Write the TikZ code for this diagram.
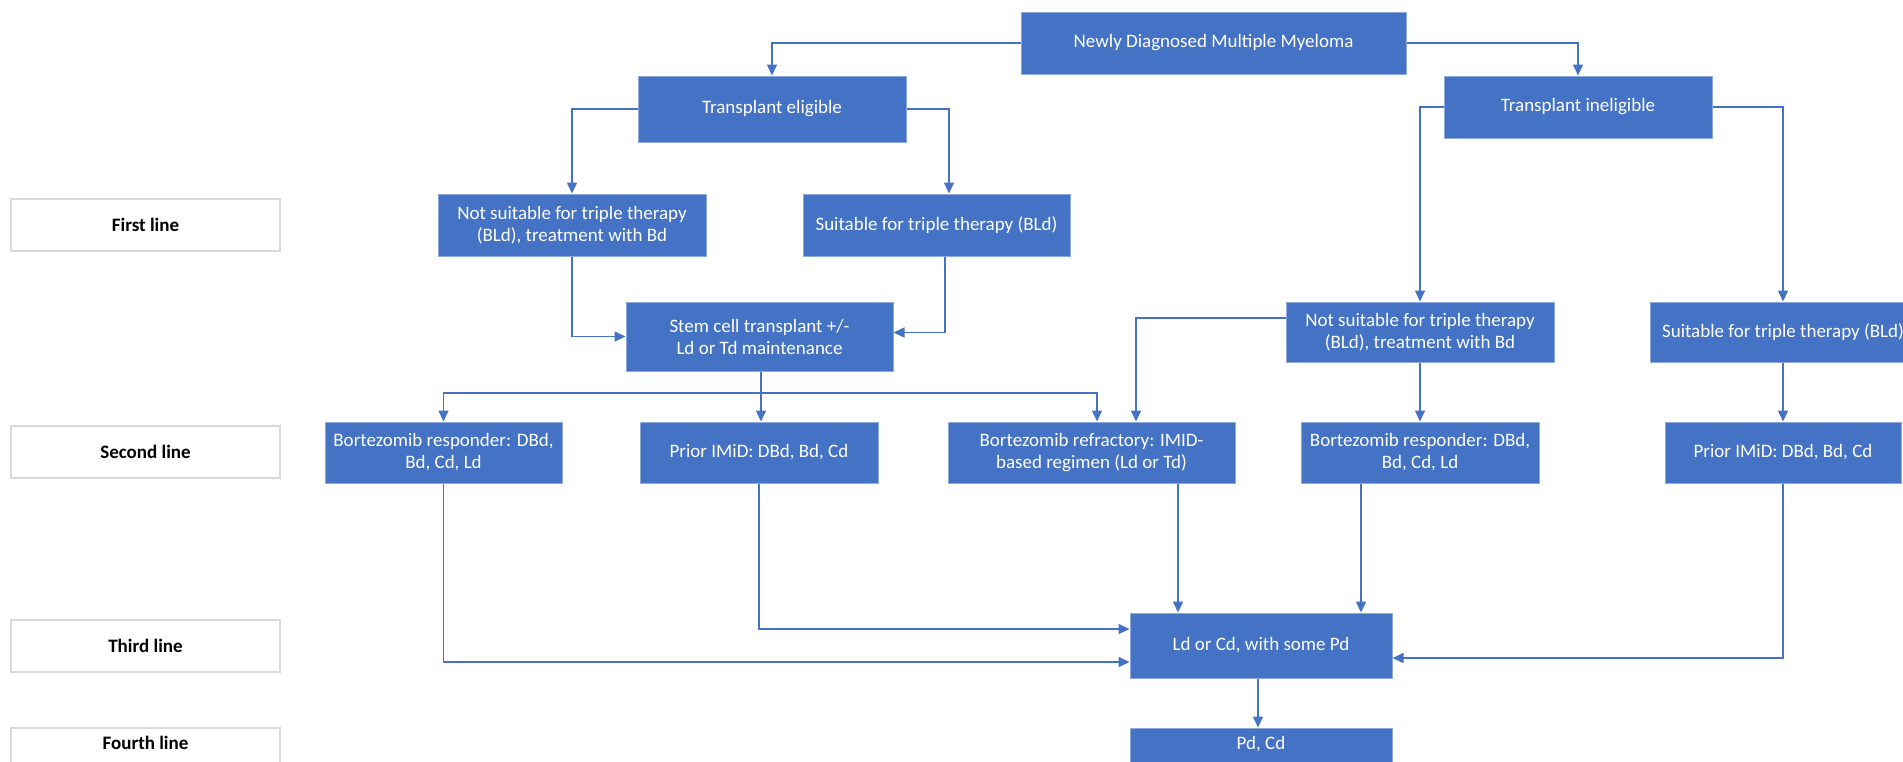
\documentclass[tikz,border=0pt]{standalone}
\usepackage{fontspec}
\setmainfont{Carlito}
\usetikzlibrary{arrows.meta,calc}
\definecolor{boxblue}{HTML}{4472C4}
\definecolor{lineblue}{HTML}{4472C4}
\definecolor{edgeblue}{HTML}{8EA9DB}
\definecolor{graybd}{HTML}{D9D9D9}
\begin{document}
\begin{tikzpicture}[x=1pt,y=-1pt,
  bluebox/.style={fill=boxblue, draw=edgeblue, line width=1pt, text=white,
    font=\fontsize{19}{22}\selectfont, align=center, inner sep=0pt},
  lbl/.style={fill=white, draw=graybd, line width=1.5pt,
    font=\fontsize{19}{22}\selectfont\bfseries, minimum width=269pt, minimum height=52pt},
  arr/.style={draw=lineblue, line width=1.6pt, -{Triangle[length=11pt,width=10pt]}},
  conn/.style={draw=lineblue, line width=1.6pt}]
\useasboundingbox (0,0) rectangle (1903,761);
\clip (0,0) rectangle (1903,761);

% row labels
\node[lbl] (l1) at (145.5,225) {First line};
\node[lbl] (l2) at (145.5,452) {Second line};
\node[lbl] (l3) at (145.5,646) {Third line};
\node[lbl, inner sep=0pt, text height=13pt, text depth=23pt] (l4) at (145.5,754) {Fourth line};

% boxes
\node[bluebox, minimum width=385pt, minimum height=62pt] (top) at (1213.5,43) {Newly Diagnosed Multiple Myeloma};
\node[bluebox, minimum width=268pt, minimum height=66pt] (te) at (772,109) {Transplant eligible};
\node[bluebox, minimum width=268pt, minimum height=62pt] (ti) at (1578,107) {Transplant ineligible};
\node[bluebox, minimum width=268pt, minimum height=62pt] (nsL) at (572,225) {Not suitable for triple therapy\\(BLd), treatment with Bd};
\node[bluebox, minimum width=267pt, minimum height=62pt] (sL) at (936.5,225) {Suitable for triple therapy (BLd)};
\node[bluebox, minimum width=267pt, minimum height=69pt] (stem) at (759.5,336.5) {Stem cell transplant +/-\\Ld or Td maintenance};
\node[bluebox, minimum width=268pt, minimum height=60pt] (nsR) at (1420,332) {Not suitable for triple therapy\\(BLd), treatment with Bd};
\node[bluebox, minimum width=266pt, minimum height=60pt] (sR) at (1783,332) {Suitable for triple therapy (BLd)};
\node[bluebox, minimum width=237pt, minimum height=61pt] (brL) at (443.5,452.5) {Bortezomib responder: DBd,\\Bd, Cd, Ld};
\node[bluebox, minimum width=238pt, minimum height=61pt] (piL) at (759,452.5) {Prior IMiD: DBd, Bd, Cd};
\node[bluebox, minimum width=287pt, minimum height=61pt] (ref) at (1091.5,452.5) {Bortezomib refractory: IMID-\\based regimen (Ld or Td)};
\node[bluebox, minimum width=238pt, minimum height=61pt] (brR) at (1420,452.5) {Bortezomib responder: DBd,\\Bd, Cd, Ld};
\node[bluebox, minimum width=236pt, minimum height=61pt] (piR) at (1783,452.5) {Prior IMiD: DBd, Bd, Cd};
\node[bluebox, minimum width=262pt, minimum height=65pt] (ld) at (1261,645.5) {Ld or Cd, with some Pd};
\node[bluebox, minimum width=262pt, minimum height=62pt, text height=13pt, text depth=33pt] (pd) at (1261,759) {Pd, Cd};

% connectors
\draw[arr] (top.west) -| (te.north);
\draw[arr] (top.east) -| (ti.north);
\draw[arr] (te.west) -| (nsL.north);
\draw[arr] (te.east) -| ($(sL.north)+(12.5,0)$);
\draw[arr] (ti.west) -| (nsR.north);
\draw[arr] (ti.east) -| (sR.north);
\draw[arr] (nsL.south) |- (stem.west);
\draw[arr] ($(sL.south)+(8.5,0)$) |- ($(stem.east)+(0,-4)$);

\coordinate (br) at (761,393);
\draw[conn] (stem.south -| br) -- (br);
\draw[arr] (br) -- (br |- piL.north);
\draw[arr] (br) -| (brL.north);
\draw[arr] (br) -| ($(ref.north)+(5.5,0)$);
\draw[arr] ($(nsR.west)+(0,-14)$) -| ($(ref.north)+(44.5,0)$);
\draw[arr] (nsR.south) -- (brR.north);
\draw[arr] (sR.south) -- (piR.north);

\draw[arr] (brL.south) |- ($(ld.west)+(0,16.5)$);
\draw[arr] (piL.south) |- ($(ld.west)+(0,-16.5)$);
\draw[arr] ($(ref.south)+(86.5,0)$) -- ($(ld.north)+(-83,0)$);
\draw[arr] ($(brR.south)+(-59,0)$) -- ($(ld.north)+(100,0)$);
\draw[arr] (piR.south) |- ($(ld.east)+(0,12.5)$);
\draw[arr] ($(ld.south)+(-3,0)$) -- ($(pd.north)+(-3,0)$);
\end{tikzpicture}
\end{document}
